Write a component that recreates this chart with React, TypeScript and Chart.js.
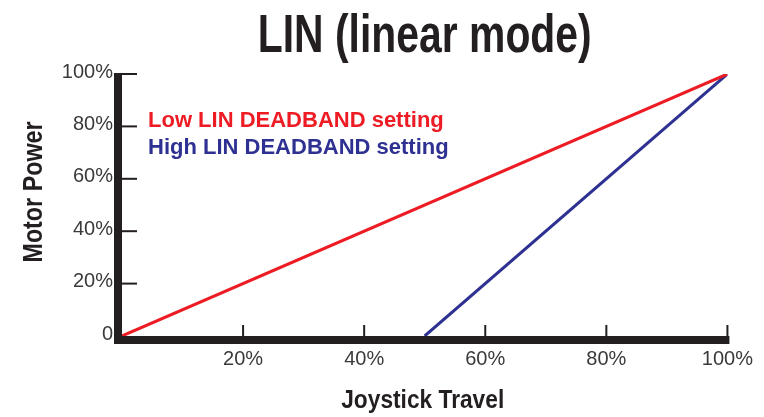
import React, { useEffect, useRef } from "react";
import { Chart, registerables } from "chart.js";

Chart.register(...registerables);

const titleText = "LIN (linear mode)";
const xAxisTitle = "Joystick Travel";
const yAxisTitle = "Motor Power";

const lowLabel = "Low LIN DEADBAND setting";
const lowX = [0, 100];
const lowY = [0, 100];

const highLabel = "High LIN DEADBAND setting";
const highX = [50, 100];
const highY = [0, 100];

const xTickValues = [0, 20, 40, 60, 80, 100];
const yTickValues = [0, 20, 40, 60, 80, 100];

const RED = "#ed1c24";
const BLUE = "#2e3192";
const INK = "#231f20";
const TICK_TEXT = "#3a3a3a";
const SANS = '"Liberation Sans", Arial, sans-serif';

const fmtX = (v: number) => (v === 0 ? "" : v + "%");
const fmtY = (v: number) => (v === 0 ? "0" : v + "%");

// draw text centred at (cx, baseline) squeezed horizontally to a given width
function drawCondensed(ctx: any, text: string, cx: number, baseline: number, width: number, font: string) {
  ctx.save();
  ctx.font = font;
  ctx.textAlign = "left";
  ctx.textBaseline = "alphabetic";
  const w = ctx.measureText(text).width;
  const sx = width / w;
  ctx.translate(cx - width / 2, baseline);
  ctx.scale(sx, 1);
  ctx.fillText(text, 0, 0);
  ctx.restore();
}

const axesPlugin = {
  id: "customAxes",
  afterDatasetsDraw(chart: any) {
    const { ctx, chartArea, scales } = chart;
    const { left, right, top, bottom } = chartArea;
    const x = scales.x;
    const y = scales.y;
    ctx.save();
    ctx.strokeStyle = INK;
    ctx.lineCap = "butt";
    ctx.lineWidth = 8;
    ctx.beginPath();
    ctx.moveTo(left - 4, top - 1);
    ctx.lineTo(left - 4, bottom + 8);
    ctx.stroke();
    ctx.beginPath();
    ctx.moveTo(left - 8, bottom + 4);
    ctx.lineTo(right + 2, bottom + 4);
    ctx.stroke();
    ctx.lineWidth = 2;
    y.ticks.forEach((t: any) => {
      if (t.value === 0) return;
      const py = y.getPixelForValue(t.value);
      ctx.beginPath();
      ctx.moveTo(left, py);
      ctx.lineTo(left + 15, py);
      ctx.stroke();
    });
    x.ticks.forEach((t: any) => {
      if (t.value === 0) return;
      const px = x.getPixelForValue(t.value);
      ctx.beginPath();
      ctx.moveTo(px, bottom);
      ctx.lineTo(px, bottom - 11);
      ctx.stroke();
    });
    ctx.restore();
  },
  afterDraw(chart: any) {
    const { ctx, chartArea } = chart;
    const { left, right, top, bottom } = chartArea;
    const midX = (left + right) / 2;
    ctx.save();
    // title
    ctx.fillStyle = INK;
    drawCondensed(ctx, titleText, midX, top - 22, 334, "bold 54px " + SANS);
    // legend text
    ctx.font = "bold 22px " + SANS;
    ctx.textAlign = "left";
    ctx.textBaseline = "alphabetic";
    chart.data.datasets.forEach((ds: any, i: number) => {
      ctx.fillStyle = ds.borderColor;
      ctx.fillText(ds.label, left + 26, top + 53 + i * 27);
    });
    // x axis title
    ctx.fillStyle = INK;
    drawCondensed(ctx, xAxisTitle, midX - 2, bottom + 72, 163, "bold 25px " + SANS);
    // y axis title
    ctx.save();
    ctx.translate(left - 80, top + 118);
    ctx.rotate(-Math.PI / 2);
    drawCondensed(ctx, yAxisTitle, 0, 0, 141, "bold 27px " + SANS);
    ctx.restore();
    ctx.restore();
  },
};

export default function App() {
  const canvasRef = useRef<HTMLCanvasElement | null>(null);

  useEffect(() => {
    const canvas = canvasRef.current;
    if (!canvas) return;
    const chart = new Chart(canvas, {
      type: "line",
      data: {
        datasets: [
          {
            label: lowLabel,
            data: lowX.map((v, i) => ({ x: v, y: lowY[i] })),
            borderColor: RED,
            backgroundColor: RED,
            borderWidth: 3,
            pointRadius: 0,
            tension: 0,
          },
          {
            label: highLabel,
            data: highX.map((v, i) => ({ x: v, y: highY[i] })),
            borderColor: BLUE,
            backgroundColor: BLUE,
            borderWidth: 3,
            pointRadius: 0,
            tension: 0,
          },
        ],
      },
      options: {
        animation: false,
        responsive: false,
        devicePixelRatio: 1,
        layout: { padding: { left: 0, right: 36, top: 74, bottom: 0 } },
        plugins: {
          legend: { display: false },
          tooltip: { enabled: false },
          title: { display: false },
        },
        scales: {
          x: {
            type: "linear",
            min: 0,
            max: 100,
            afterBuildTicks: (s: any) => {
              s.ticks = xTickValues.map((v) => ({ value: v }));
            },
            ticks: {
              callback: (v: any) => fmtX(Number(v)),
              color: TICK_TEXT,
              font: { family: SANS, size: 20 },
              padding: 11,
              maxRotation: 0,
              autoSkip: false,
            },
            grid: { display: false, drawTicks: false },
            border: { display: false },
            afterFit: (s: any) => {
              s.height = 81;
            },
          },
          y: {
            type: "linear",
            min: 0,
            max: 100,
            afterBuildTicks: (s: any) => {
              s.ticks = yTickValues.map((v) => ({ value: v }));
            },
            ticks: {
              callback: (v: any) => fmtY(Number(v)),
              color: TICK_TEXT,
              font: { family: SANS, size: 20 },
              padding: 9,
              labelOffset: -2,
              autoSkip: false,
            },
            grid: { display: false, drawTicks: false },
            border: { display: false },
            afterFit: (s: any) => {
              s.width = 122;
            },
          },
        },
      },
      plugins: [axesPlugin],
    } as any);
    return () => chart.destroy();
  }, []);

  return (
    <div style={{ position: "absolute", left: 0, top: 0, width: 764, height: 417, background: "#fff" }}>
      <canvas ref={canvasRef} width={764} height={417} style={{ display: "block" }} />
    </div>
  );
}
